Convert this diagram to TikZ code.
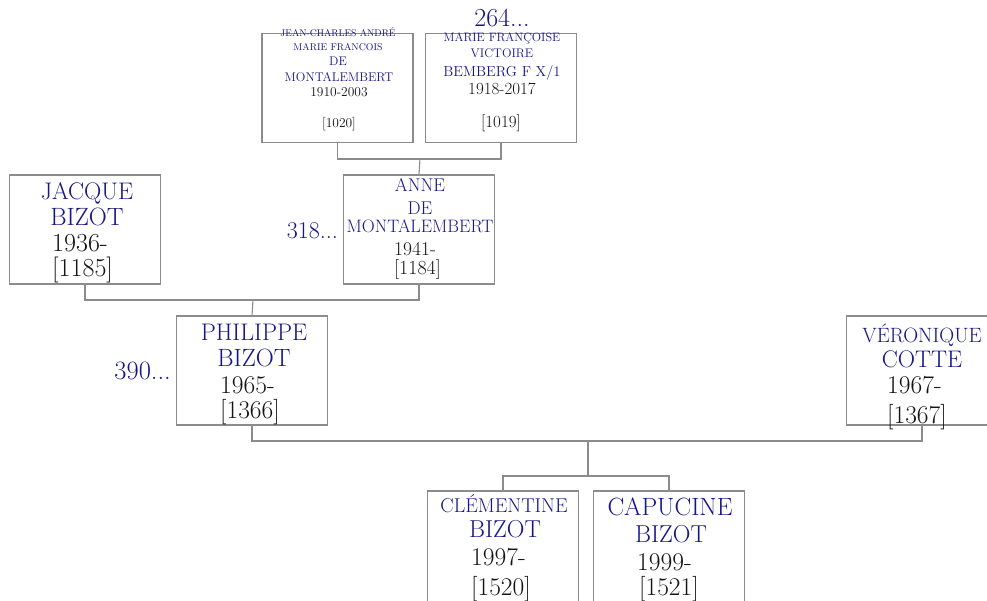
\documentclass[tikz,border=0pt]{standalone}
\definecolor{nameblue}{RGB}{22,22,138}
\definecolor{datecol}{RGB}{20,20,20}
\definecolor{boxgray}{RGB}{140,140,140}
\begin{document}
\begin{tikzpicture}[x=1pt,y=-1pt]
\tikzset{
  pbox/.style={draw=boxgray, line width=1.1pt, rectangle, inner sep=0pt, minimum width=151pt, minimum height=109pt},
  conn/.style={draw=boxgray, line width=1.1pt},
  nm/.style={text=nameblue, inner sep=0pt, anchor=base},
  dt/.style={text=datecol, inner sep=0pt, anchor=base west},
  dc/.style={text=datecol, inner sep=0pt, anchor=base},
  more/.style={text=nameblue, inner sep=0pt, anchor=base east},
}
\newcommand{\fs}[1]{\fontsize{#1}{#1}\selectfont}
\useasboundingbox (0,0) rectangle (987,601);
\fill[white] (0,0) rectangle (987,601);
% boxes
\node[pbox] (jc) at (337.5,88) {};
\node[pbox] (mf) at (501,88) {};
\node[pbox] (jacque) at (85,229.5) {};
\node[pbox] (anne) at (419,229.5) {};
\node[pbox] (phil) at (252,370.5) {};
\node[pbox] (vero) at (922,370.5) {};
\node[pbox, minimum height=130pt] (clem) at (503,556) {};
\node[pbox, minimum height=130pt] (capu) at (669,556) {};
% connectors
\coordinate (p1) at (420,159);
\coordinate (p2) at (253,300);
\coordinate (p3) at (588,441);
\coordinate (p4) at (588,476);
\draw[conn] (jc.south) |- (p1) -| (mf.south);
\draw[conn] (p1) -- (anne.north);
\draw[conn] (jacque.south) |- (p2) -| (anne.south);
\draw[conn] (p2) -- (phil.north);
\draw[conn] (phil.south) |- (p3) -| (vero.south);
\draw[conn] (p3) -- (p4);
\draw[conn] (clem.north) |- (p4) -| (capu.north);
% Jean-Charles
\node[nm] (jc1) at (338,37) {\fs{9.7}JEAN-CHARLES ANDRÉ};
\node[nm] (jc2) at (338,51) {\fs{9.8}MARIE FRANCOIS};
\node[nm] (jc3) at (338,66) {\fs{12.5}DE};
\node[nm] (jc4) at (339,82) {\fs{12.6}MONTALEMBERT};
\node[dc] (jc5) at (339,97) {\fs{13.5}1910-2003};
\node[dc] (jc6) at (339,128) {\fs{13.5}[1020]};
% Marie Françoise
\node[nm] (m264) at (502,27) {\fs{26}264...};
\node[nm] (mf1) at (502,42) {\fs{12.2}MARIE FRANÇOISE};
\node[nm] (mf2) at (502,58) {\fs{12.5}VICTOIRE};
\node[nm] (mf3) at (502,77) {\fs{14.5}BEMBERG F X/1};
\node[dc] (mf4) at (502,95) {\fs{17}1918-2017};
\node[dc] (mf5) at (501,128) {\fs{17}[1019]};
% Jacque
\node[nm] (ja1) at (87,200) {\fs{24}JACQUE};
\node[nm] (ja2) at (87,226) {\fs{25}BIZOT};
\node[dt] (ja3) at (52,252) {\fs{26}1936-};
\node[dt] (ja4) at (52,277) {\fs{26}[1185]};
% Anne
\node[more] (m318) at (338,239) {\fs{24}318...};
\node[nm] (an1) at (420,192) {\fs{18.5}ANNE};
\node[nm] (an2) at (420,215) {\fs{18.5}DE};
\node[nm] (an3) at (420,233) {\fs{18}MONTALEMBERT};
\node[dt] (an4) at (394,256) {\fs{19.5}1941-};
\node[dt] (an5) at (394,275) {\fs{20}[1184]};
% Philippe
\node[more] (m390) at (171,379) {\fs{26.5}390...};
\node[nm] (ph1) at (254,340) {\fs{24}PHILIPPE};
\node[nm] (ph2) at (254,366) {\fs{25}BIZOT};
\node[dt] (ph3) at (220,393) {\fs{25.5}1965-};
\node[dt] (ph4) at (220,418) {\fs{25.5}[1366]};
% Veronique
\node[nm] (ve1) at (922,342) {\fs{20.7}VÉRONIQUE};
\node[nm] (ve2) at (922,367) {\fs{24}COTTE};
\node[dt] (ve3) at (887,393) {\fs{25.5}1967-};
\node[dt] (ve4) at (887,423) {\fs{25.5}[1367]};
% Clementine
\node[nm] (cl1) at (504,512) {\fs{20}CLÉMENTINE};
\node[nm] (cl2) at (505,537) {\fs{24.5}BIZOT};
\node[dt] (cl3) at (471,565) {\fs{25.5}1997-};
\node[dt] (cl4) at (471,595) {\fs{25.5}[1520]};
% Capucine
\node[nm] (ca1) at (670,515) {\fs{25}CAPUCINE};
\node[nm] (ca2) at (671,542) {\fs{24.5}BIZOT};
\node[dt] (ca3) at (637,570) {\fs{25.5}1999-};
\node[dt] (ca4) at (639,595) {\fs{25.5}[1521]};
\end{tikzpicture}
\end{document}
